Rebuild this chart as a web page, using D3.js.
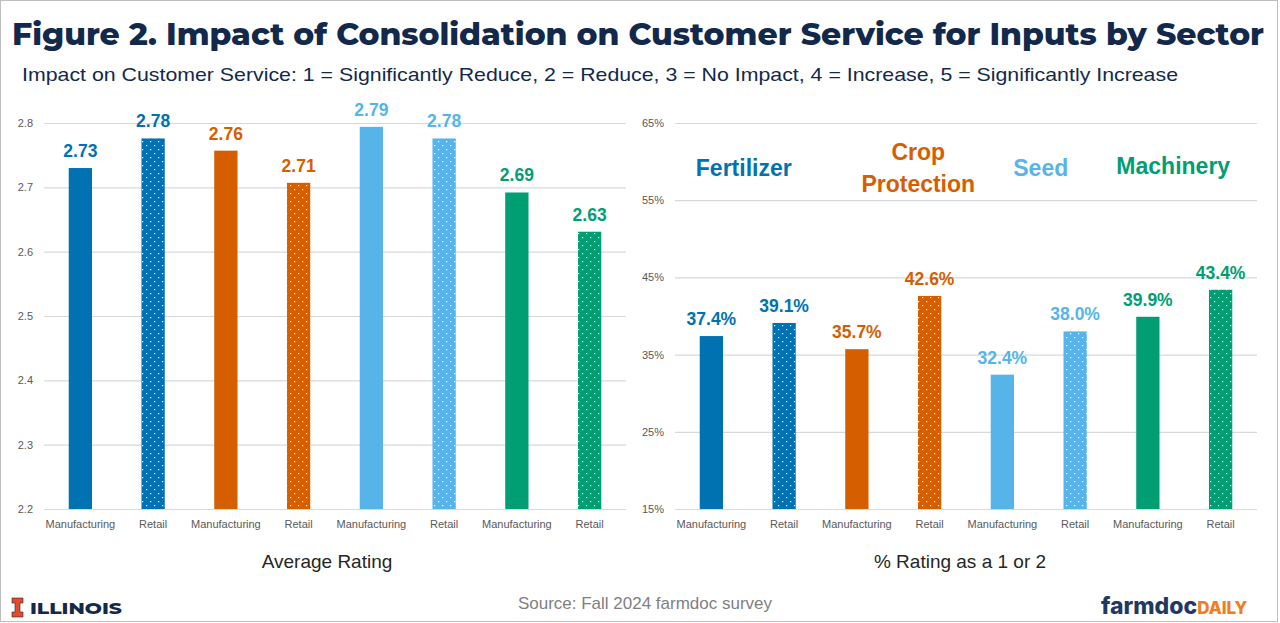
<!DOCTYPE html>
<html>
<head>
<meta charset="utf-8">
<script src="https://cdn.jsdelivr.net/npm/d3@7"></script>
<style>
  body { margin: 0; background: #fff; }
  svg { display: block; }
</style>
</head>
<body>
<div id="chart"></div>
<script>
// data
var barLabels = ["Manufacturing", "Retail", "Manufacturing", "Retail", "Manufacturing", "Retail", "Manufacturing", "Retail"];
var sectors = ["Fertilizer", "Crop Protection", "Seed", "Machinery"];
var avgRating = [2.73, 2.776, 2.757, 2.707, 2.794, 2.776, 2.692, 2.631];
var pctLow = [37.4, 39.1, 35.7, 42.6, 32.4, 38.0, 39.9, 43.4];
var avgTicks = [2.2, 2.3, 2.4, 2.5, 2.6, 2.7, 2.8];
var pctTicks = [15, 25, 35, 45, 55, 65];

var sectorColors = ["#0072b2", "#d55e00", "#56b4e9", "#009e73"];

var W = 1280, H = 623;
var svg = d3.select("#chart").append("svg")
    .attr("width", W).attr("height", H)
    .style("font-family", "'Liberation Sans', Arial, sans-serif");

// dotted patterns for retail bars
var defs = svg.append("defs");
sectorColors.forEach(function(c, i) {
  var p = defs.append("pattern")
      .attr("id", "dots" + i)
      .attr("width", 8).attr("height", 8)
      .attr("patternUnits", "userSpaceOnUse");
  p.append("rect").attr("width", 8).attr("height", 8).attr("fill", c);
  p.append("rect").attr("x", 2).attr("y", 1).attr("width", 1.2).attr("height", 1.2).attr("fill", "#fff");
  p.append("rect").attr("x", 6).attr("y", 5).attr("width", 1.2).attr("height", 1.2).attr("fill", "#fff");
});

// frame
svg.append("rect").attr("x", 0.5).attr("y", 0.5).attr("width", W - 3).attr("height", H - 2)
    .attr("fill", "none").attr("stroke", "#bfbfbf");

// title
svg.append("text").attr("x", 12).attr("y", 45)
    .attr("textLength", 1252).attr("lengthAdjust", "spacingAndGlyphs")
    .style("font-family", "Montserrat, Inter, 'Open Sans', sans-serif")
    .style("font-weight", 800).style("font-size", "31px").style("fill", "#13294b")
    .text("Figure 2. Impact of Consolidation on Customer Service for Inputs by Sector");

svg.append("text").attr("x", 22).attr("y", 81)
    .attr("textLength", 1156).attr("lengthAdjust", "spacingAndGlyphs")
    .style("font-size", "19px").style("fill", "#13294b")
    .text("Impact on Customer Service: 1 = Significantly Reduce, 2 = Reduce, 3 = No Impact, 4 = Increase, 5 = Significantly Increase");

function panel(opt) {
  var g = svg.append("g");
  var x = d3.scaleBand().domain(d3.range(barLabels.length))
      .range([opt.left, opt.left + 582]).paddingInner(0.68).paddingOuter(0.34);
  var y = d3.scaleLinear().domain(opt.domain).range([509, 123]);

  // gridlines + y labels
  var ya = g.append("g")
      .attr("transform", "translate(" + opt.left + ",0)")
      .call(d3.axisLeft(y).tickValues(opt.ticks).tickSize(-582).tickPadding(11).tickFormat(opt.tickFmt));
  ya.select(".domain").remove();
  ya.selectAll("line").attr("stroke", "#d9d9d9").attr("stroke-width", 1.2);
  ya.selectAll("text").style("font-size", "11px").style("fill", "#595959")
      .style("font-family", "'Liberation Sans', Arial, sans-serif");

  // bars
  g.selectAll(".bar").data(opt.values).enter().append("rect")
      .attr("x", function(d, i) { return x(i); })
      .attr("y", function(d) { return y(d); })
      .attr("width", x.bandwidth())
      .attr("height", function(d) { return 509 - y(d); })
      .attr("fill", function(d, i) {
        var s = Math.floor(i / 2);
        return i % 2 ? "url(#dots" + s + ")" : sectorColors[s];
      });

  // value labels
  g.selectAll(".val").data(opt.values).enter().append("text")
      .attr("x", function(d, i) { return x(i) + x.bandwidth() / 2; })
      .attr("y", function(d) { return y(d) - 11; })
      .attr("text-anchor", "middle")
      .style("font-size", "17.5px").style("font-weight", 700)
      .style("fill", function(d, i) { return sectorColors[Math.floor(i / 2)]; })
      .text(opt.valFmt);

  // category labels
  g.selectAll(".cat").data(barLabels).enter().append("text")
      .attr("x", function(d, i) { return x(i) + x.bandwidth() / 2; })
      .attr("y", 528)
      .attr("text-anchor", "middle")
      .style("font-size", "11px").style("fill", "#595959")
      .text(function(d) { return d; });

  // axis title
  g.append("text").attr("x", opt.left + 291 + opt.titleDx).attr("y", 568)
      .attr("text-anchor", "middle")
      .style("font-size", "19px").style("fill", "#262626")
      .text(opt.title);
  return x;
}

panel({
  left: 44, domain: [2.2, 2.8], ticks: avgTicks, values: avgRating,
  tickFmt: d3.format(".1f"), valFmt: d3.format(".2f"),
  title: "Average Rating", titleDx: -8
});

var x2 = panel({
  left: 675, domain: [15, 65], ticks: pctTicks, values: pctLow,
  tickFmt: function(d) { return d + "%"; }, valFmt: function(d) { return d.toFixed(1) + "%"; },
  title: "% Rating as a 1 or 2", titleDx: -6
});

// sector names over the right panel
var sectorDx = [-4, 25, 2, -11];
var sectorY = [176, 160, 176, 174];
sectors.forEach(function(s, k) {
  var cx = (x2(2 * k) + x2(2 * k + 1) + x2.bandwidth()) / 2 + sectorDx[k];
  var t = svg.append("text").attr("x", cx).attr("y", sectorY[k])
      .attr("text-anchor", "middle")
      .style("font-family", "'Liberation Sans', Arial, sans-serif")
      .style("font-size", "23px").style("font-weight", 700)
      .style("fill", sectorColors[k]);
  var words = s.split(" ");
  words.forEach(function(w, j) {
    t.append("tspan").attr("x", cx).attr("dy", j ? 32 : 0).text(w);
  });
});

// source
svg.append("text").attr("x", 645).attr("y", 609).attr("text-anchor", "middle")
    .style("font-size", "17px").style("fill", "#7f7f7f")
    .text("Source: Fall 2024 farmdoc survey");

// Illinois logo
var logo = svg.append("g").attr("transform", "translate(12,598)");
logo.append("path")
    .attr("d", "M0,0H11V5H8V14H11V19H0V14H3V5H0Z")
    .attr("fill", "#e84a27").attr("stroke", "#13294b").attr("stroke-width", 0.6);
svg.append("text").attr("x", 30).attr("y", 614)
    .style("font-family", "Montserrat, Inter, sans-serif")
    .style("font-size", "17px").style("font-weight", 800).style("fill", "#13294b")
    .attr("textLength", 92).attr("lengthAdjust", "spacingAndGlyphs")
    .text("ILLINOIS");

// farmdoc daily logo
var fd = svg.append("text").attr("x", 1101).attr("y", 614)
    .style("font-family", "Inter, 'Open Sans', sans-serif").style("font-weight", 800);
fd.append("tspan").style("font-size", "23px").style("fill", "#1f3864").text("farmdoc");
fd.append("tspan").style("font-size", "17px").style("fill", "#f47b20").text("DAILY");
</script>
</body>
</html>
